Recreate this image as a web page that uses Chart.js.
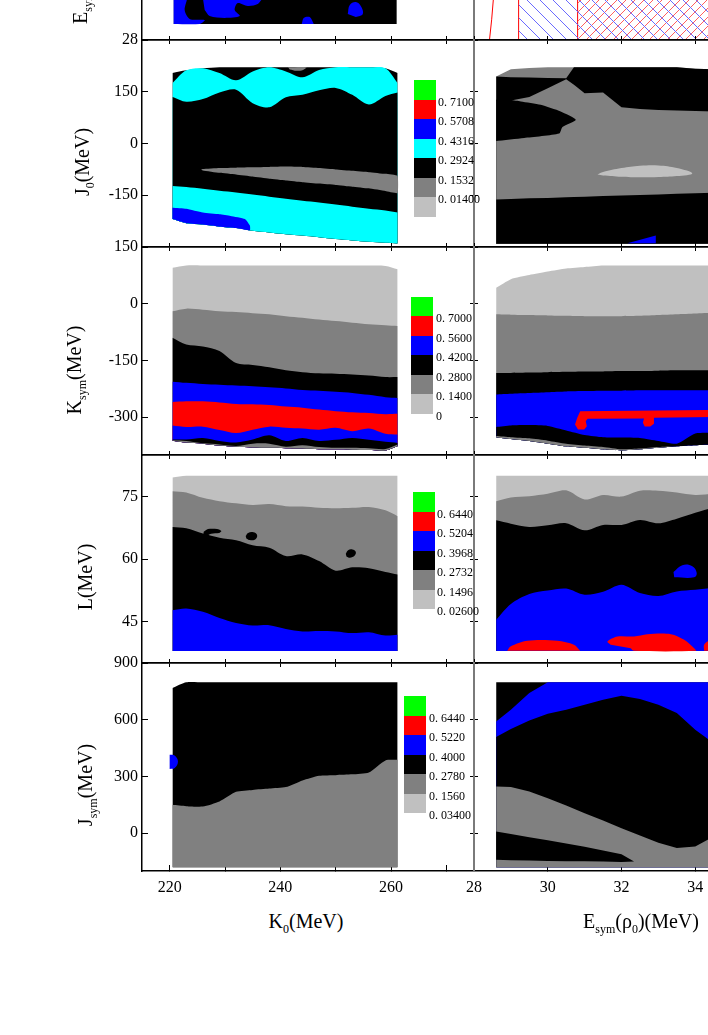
<!DOCTYPE html>
<html lang="en">
<head>
<meta charset="UTF-8" />
<title>Contour grid</title>
<script src="https://cdn.jsdelivr.net/npm/chart.js"></script>
<style>
  body { margin: 0; background: #fff; }
  #fig { position: relative; width: 708px; height: 1035px; overflow: hidden; background: #fff; font-family: 'Liberation Serif', serif; }
  #fig canvas { position: absolute; }
  .ytitle, .xtitle { position: absolute; font-size: 20px; white-space: nowrap; color: #000; }
  .ytitle { transform: translate(-50%, -50%) rotate(-90deg); }
  .xtitle { transform: translate(-50%, -50%); }
  sub { font-size: 12px; vertical-align: -5px; line-height: 0; }
  .swatch { position: absolute; }
  .lvl { position: absolute; font-size: 12px; transform: translateY(-50%); white-space: nowrap; }
</style>
</head>
<body>
<div id="fig"></div>
<script>
// colours of the contour levels
const GREEN = '#00ff00', RED = '#ff0000', BLUE = '#0000ff', CYAN = '#00ffff';
const BLACK = '#000000', GRAY = '#808080', LGRAY = '#c0c0c0';

// axis ticks
const k0Ticks = [220, 230, 240, 250, 260, 270];
const esymTicks = [28, 30, 32, 34, 36];
const j0Ticks = [-150, 0, 150];
const ksymTicks = [-300, -150, 0, 150];
const lTicks = [45, 60, 75];
const jsymTicks = [0, 300, 600, 900];

// sample positions along x for the contour boundaries
const k0Grid = [220.5, 223, 226, 229, 232, 235, 238, 241, 244, 247, 250, 253, 256, 259, 261.2];
const esGrid = [28.6, 29, 29.5, 30, 30.5, 31, 31.5, 32, 32.5, 33, 33.5, 34, 34.5, 35];
const esGridJ0 = [28.6, 29, 29.5, 30, 30.5, 30.71, 31, 31.5, 32, 32.5, 33, 33.5, 34, 34.5, 35];

// ---- top row (E_sym), only its lower edge is visible
const eTopXs = [220.7, 261.05];
const eTopUpper = [35.8, 35.8];
const eTopLower = [28.62, 28.62];
const eBlobA = [[220.72,29.65],[223.07,29.65],[222.71,29.15],[223.62,28.81],[226.33,28.77],[225.42,28.62],[220.72,28.62]];
const eBlobB = [[225.97,29.65],[236.64,29.65],[235.91,29.38],[234.1,29.31],[232.3,29.42],[231.75,29.15],[232.66,28.92],[229.95,28.85],[227.23,28.92],[226.33,29.15]];
const eBlobC = [[243.87,28.62],[244.23,28.85],[245.32,28.88],[246.04,28.62]];
const eBlobD = [[252.19,29.0],[252.55,29.35],[253.64,29.46],[254.54,29.31],[254.9,29.0],[253.64,28.88]];
const hatchBlueFrom = 29.21, hatchRedFrom = 30.81, hatchTo = 36;
const esymCurve = [[28.42, 0], [28.48, 0.1], [28.55, 0.25]];

// ---- J0 vs K0
const j0Top   = [204, 212, 218, 221, 221, 221, 221, 221, 221, 221, 221, 221, 221, 218, 204];
const j0Cyan1 = [175, 212, 218, 204, 183, 209, 221, 209, 192, 213, 221, 221, 221, 218, 175];
const j0Cyan2 = [135, 121, 129, 148, 156, 117, 105, 134, 141, 154, 161, 141, 113, 138, 148];
const j0Cyan3 = [-123, -126, -131, -137, -142, -148, -154, -160, -166, -171, -177, -183, -189, -194, -200];
const j0Bot   = [-219, -231, -235, -241, -245, -253, -258, -263, -267, -272, -277, -281, -285, -288, -290];
const j0GrayBand = [[225.7,-76],[226,-74],[229,-71],[232,-70],[235,-69],[238,-68],[241,-67],[244,-68],[247,-71],[250,-75],[253,-79],[256,-83],[259,-88],[261.2,-94],
  [261.2,-144],[259,-138],[256,-130],[253,-125],[250,-120],[247,-116],[244,-112],[241,-107],[238,-102],[235,-96],[232,-90],[229,-85],[226,-78]];
const j0BlueBlob = [[220.5,-186],[223,-189],[226,-200],[229,-205],[231,-210],[233.6,-219],[234.5,-238],[234.5,-251.7],[232,-245],[229,-241],[226,-235],[223,-231],[220.5,-219]];
const j0GrayBlob = [[241.4,221],[244.71,221],[244.11,213.4],[242.91,210.6],[241.7,214.4]];

// ---- J0 vs Esym
const j0rTop = [194, 215, 219, 221, 221, 221, 221, 221, 221, 221, 221, 221, 217, 215, 215];
const j0rA1  = [194, 192, 191, 190, 189, 221, 221, 221, 221, 221, 221, 221, 217, 215, 215];
const j0rA2  = [125, 125, 135, 160, 186, 170, 146, 148, 105, 100, 97, 96, 94, 93, 92];
const j0rA7  = [-162, -161, -159, -158, -156, -155, -154, -152, -151, -149, -148, -146, -144, -143, -141];
const j0rBot = [-290.5, -290.5, -290.5, -290.5, -290.5, -290.5, -290.5, -290.5, -290.5, -290.5, -290.5, -290.5, -290.5, -290.5, -290.5];
const j0rLobe = [[28.6,127],[29.0,126],[29.27,122],[29.81,112.5],[30.35,93],[30.76,69],[30.4,48],[30.31,29],[29.36,16],[28.6,7]];
const j0rOval = [[31.35,-89.5],[31.5,-82.8],[32,-71.2],[32.5,-64.5],[33,-63.5],[33.5,-71.2],[33.92,-86.6],[33.5,-94.3],[33,-97.2],[32.5,-98.1],[32,-96.2],[31.5,-92.4]];
const j0rBlueSliver = [[32.16,-289],[32.93,-267],[32.93,-289]];

// ---- K_sym vs K0
const ksTop  = [95, 101, 101, 101, 101, 101, 101, 101, 101, 101, 101, 101, 101, 100, 91];
const ksLg   = [-20, -13, -16, -20, -22, -25, -28, -33, -37, -42, -46, -50, -54, -57, -59];
const ksGr   = [-90, -108, -113, -125, -157, -162, -168, -176, -181, -184, -185, -187, -190, -194, -194];
const ksBk   = [-206, -209, -212, -214, -216, -218, -221, -224, -228, -230, -233, -236, -241, -247, -249];
const ksBl   = [-260, -258, -258, -261, -265, -266, -268, -272, -275, -280, -284, -287, -289, -292, -291];
const ksRd   = [-322, -326, -325, -334, -342, -333, -325, -328, -330, -333, -328, -337, -330, -344, -346];
const ksBl2  = [-359, -359, -355, -363, -367, -359, -348, -363, -355, -363, -360, -355, -360, -365, -368];
const ksBk2  = [-361, -363, -369, -372, -376, -370, -370, -378, -374, -379, -381, -381, -382, -384, -372];
const ksBot  = [-362, -367, -370, -375, -378, -380, -381, -382, -383, -385, -385, -386, -387, -388, -377];

// ---- K_sym vs Esym
const ksrTop = [42, 65, 76, 85, 93, 97, 101, 101, 101, 101, 101, 101, 101, 101];
const ksrLg  = [-28, -29, -30, -31, -32, -33, -33, -33, -32, -30, -28, -26, -24, -23];
const ksrGr  = [-183, -183, -182, -181, -180, -179, -179, -178, -178, -177, -176, -176, -176, -176];
const ksrBk  = [-240, -238, -236, -234, -232, -231, -230, -230, -229, -229, -229, -229, -229, -229];
const ksrBl  = [-326, -322, -321, -323, -335, -347, -353, -354, -355, -363, -370, -343, -341, -341];
const ksrBk2 = [-350, -353, -356, -362, -370, -375, -379, -385, -383, -379, -377, -374, -372, -372];
const ksrBot = [-353, -358, -363, -370, -377, -381, -385, -388, -385, -381, -377, -374, -372, -372];
const ksrRedBar = [[30.88,-284],[35,-280.5],[35,-299],[32.88,-301.6],[32.88,-317.5],[32.78,-324.6],[32.63,-324.6],[32.58,-314.9],[32.61,-303.4],[31.08,-304.3],[31.03,-310.5],[31.06,-323.7],[30.99,-332.5],[30.82,-332.5],[30.74,-319.3],[30.8,-301.6]];

// ---- L vs K0
const lTop = [79.6, 80, 80, 80, 80, 80, 80, 80, 80, 80, 80, 80, 80, 80, 80];
const lLg  = [76.3, 76.0, 74.7, 73.9, 73.4, 73.0, 73.2, 72.7, 72.6, 72.3, 72.2, 72.3, 72.5, 71.7, 70.3];
const lGr  = [67.7, 67.4, 66.1, 65.1, 64.5, 63.3, 62.7, 60.7, 61.1, 59.5, 57.2, 58.0, 57.8, 56.9, 56.3];
const lBk  = [47.7, 48.1, 47.3, 45.8, 44.6, 44.0, 44.1, 43.2, 42.6, 42.7, 42.6, 42.2, 42.4, 41.6, 41.8];
const lBot = [37.9, 37.9, 37.9, 37.9, 37.9, 37.9, 37.9, 37.9, 37.9, 37.9, 37.9, 37.9, 37.9, 37.9, 37.9];
const lBlob1 = [[226.15,66.55],[226.93,67.19],[228.56,67.19],[229.34,66.71],[228.92,66.23],[227.53,66.06],[226.75,65.5],[226.99,64.46],[226.51,64.14],[226.03,65.1]];
const lBlob2 = [[233.74,65.5],[234.17,66.23],[234.95,66.47],[235.67,66.07],[235.79,65.26],[235.37,64.62],[234.47,64.54],[233.86,64.94]];
const lBlob3 = [[251.83,61.24],[252.25,62.13],[253.03,62.29],[253.63,61.72],[253.45,60.84],[252.55,60.28],[251.95,60.6]];

// ---- L vs Esym
const lrTop = [80, 80, 80, 80, 80, 80, 80, 80, 80, 80, 80, 80, 80, 80];
const lrLg  = [73.9, 74.8, 75.1, 75.7, 76.5, 74.3, 75.4, 75.0, 76.4, 76.4, 76.0, 75.4, 75.7, 75.7];
const lrGr  = [69.3, 68.5, 67.7, 68.1, 68.6, 66.9, 68.2, 68.2, 69.4, 68.6, 69.7, 71.1, 72.3, 72.7];
const lrBk  = [45.4, 49.2, 51.6, 52.4, 52.9, 51.4, 52.1, 53.8, 51.8, 51.1, 52.2, 52.6, 53.0, 53.0];
const lrBot = [37.9, 37.9, 37.9, 37.9, 37.9, 37.9, 37.9, 37.9, 37.9, 37.9, 37.9, 37.9, 37.9, 37.9];
const lrRed1 = [[28.9,37.92],[28.99,38.97],[29.45,40.34],[30.26,40.34],[30.71,39.37],[30.88,37.92]];
const lrRed2 = [[31.71,39.37],[31.62,40.18],[31.89,41.38],[32.34,41.38],[32.7,41.94],[33.34,41.94],[33.7,40.58],[33.97,38.57],[34.02,37.92],[32.34,37.92],[32.25,38.57]];
const lrRed3 = [[34.24,37.92],[34.24,39.37],[34.38,40.34],[34.87,40.34],[34.87,37.92]];
const lrBlueBlob = [[33.41,56.9],[33.65,58.51],[33.92,58.27],[34.04,56.66],[33.97,55.61],[33.43,55.61]];

// ---- J_sym vs K0
const jsTop = [768, 798, 798, 798, 798, 798, 798, 798, 798, 798, 798, 798, 798, 798, 798];
const jsGr  = [150, 143, 141, 168, 219, 229, 236, 244, 279, 304, 307, 311, 321, 385, 388];
const jsBot = [-180, -180, -180, -180, -180, -180, -180, -180, -180, -180, -180, -180, -180, -180, -180];
const jsBlueBlob = [[220,414.7],[220.9,411.1],[221.5,379.4],[220.9,344.1],[220,338.8]];

// ---- J_sym vs Esym
const jsrTop = [798, 798, 798, 798, 798, 798, 798, 798, 798, 798, 798, 798, 798, 798];
const jsrBk1 = [591, 653, 741, 798, 798, 798, 798, 798, 798, 798, 798, 798, 798, 798];
const jsrBl  = [508, 551, 596, 632, 653, 679, 706, 727, 709, 679, 635, 547, 476, 388];
const jsrGr  = [247, 244, 221, 185, 146, 106, 67, 26, -12, -50, -79, -71, -18, 0];
const jsrBot = [-180, -180, -180, -180, -180, -180, -180, -180, -180, -180, -180, -180, -180, -180];
const jsrWedge = [[28.6,9],[29,-4],[29.5,-21],[30,-37],[30.5,-55],[31,-72],[31.5,-92],[32,-111],[32.34,-150],
  [32,-152],[31.5,-150],[31,-148],[30.5,-148],[30,-147],[29.5,-145],[29,-143],[28.6,-141]];

// colour bars
const j0Levels = ['0. 7100', '0. 5708', '0. 4316', '0. 2924', '0. 1532', '0. 01400'];
const ksLevels = ['0. 7000', '0. 5600', '0. 4200', '0. 2800', '0. 1400', '0'];
const lLevels  = ['0. 6440', '0. 5204', '0. 3968', '0. 2732', '0. 1496', '0. 02600'];
const jsLevels = ['0. 6440', '0. 5220', '0. 4000', '0. 2780', '0. 1560', '0. 03400'];

// ------------------------------------------------------------------
const fig = document.getElementById('fig');
const COLS = [{ left: 142, w: 332 }, { left: 474, w: 295 }];
const ROWS = [{ top: -168, h: 208 }, { top: 40, h: 207 }, { top: 247, h: 208 }, { top: 455, h: 208 }, { top: 663, h: 208 }];
const FONT = { family: 'Liberation Serif', size: 16 };

// each band is filled from its upper boundary down to the lowest one;
// the next band is painted over it, so neighbouring bands show no seam
function bands(xs, bounds, colors, tension) {
  const last = bounds.length - 1;
  return bounds.map((b, i) => ({
    data: xs.map((x, j) => ({ x: x, y: b[j] })),
    fill: i < last ? last : false,
    backgroundColor: i < last ? colors[i] : 'transparent',
    borderColor: 'transparent',
    borderWidth: 0,
    pointRadius: 0,
    tension: tension,
    order: last - i + 1
  }));
}

function island(pts, color, tension) {
  return {
    data: pts.map(p => ({ x: p[0], y: p[1] })),
    fill: 'shape',
    backgroundColor: color,
    borderColor: 'transparent',
    borderWidth: 0,
    pointRadius: 0,
    tension: tension,
    order: 0
  };
}

function axis(pos, min, max, ticks, o) {
  const vertical = pos === 'left' || pos === 'right';
  return {
    type: 'linear', position: pos, min: min, max: max,
    afterBuildTicks: s => { s.ticks = ticks.map(v => ({ value: v })); },
    afterFit: s => {
      if (vertical) s.width = o.size; else s.height = o.size;
      s.paddingTop = s.paddingBottom = s.paddingLeft = s.paddingRight = 0;
    },
    ticks: {
      display: !!o.labels,
      callback: o.labels || (() => ''),
      padding: o.pad || 0,
      font: FONT, color: '#000', maxRotation: 0, autoSkip: false
    },
    grid: { drawOnChartArea: false, drawTicks: true, tickLength: o.tl, color: '#000', lineWidth: 1 },
    border: { display: true, color: o.bc || '#000', width: o.bw || 1.5 }
  };
}

function panel(p) {
  const col = COLS[p.col], row = ROWS[p.row];
  const ml = p.col === 0 ? 60 : 10, mr = 10, mt = 12, mb = p.row === 4 ? 32 : 12;
  const cv = document.createElement('canvas');
  cv.width = col.w + ml + mr;
  cv.height = row.h + mt + mb;
  cv.style.left = (col.left - ml) + 'px';
  cv.style.top = (row.top - mt) + 'px';
  fig.appendChild(cv);
  const bottomEdge = p.row === 4, leftEdge = p.col === 0;
  new Chart(cv, {
    type: 'line',
    data: { datasets: p.datasets },
    options: {
      responsive: false, animation: false, devicePixelRatio: 1, events: [],
      layout: { padding: 0 },
      plugins: { legend: { display: false }, tooltip: { enabled: false } },
      scales: {
        x: axis('bottom', p.xMin, p.xMax, p.xTicks, {
          size: mb, tl: bottomEdge ? -6 : 4, pad: bottomEdge ? 13 : 3,
          labels: bottomEdge ? p.xLabel : null
        }),
        x2: axis('top', p.xMin, p.xMax, p.xTicks, { size: mt, tl: 4 }),
        y: axis('left', p.yMin, p.yMax, p.yTicks, {
          size: ml, tl: leftEdge ? -6 : 4, pad: leftEdge ? 10 : 0,
          labels: leftEdge ? p.yLabel : null,
          bc: leftEdge ? '#000' : '#7a7a7a', bw: leftEdge ? 1.5 : 2
        }),
        y2: axis('right', p.yMin, p.yMax, p.yTicks, {
          size: mr, tl: 4, bc: leftEdge ? '#7a7a7a' : '#000', bw: 2
        })
      }
    }
  });
}

function hatch(color, step, dir) {
  const c = document.createElement('canvas');
  c.width = c.height = step;
  const g = c.getContext('2d');
  g.strokeStyle = color;
  g.lineWidth = 1;
  g.beginPath();
  for (let k = -1; k <= 1; k++) {
    if (dir > 0) { g.moveTo(k * step, step); g.lineTo(k * step + step, 0); }
    else { g.moveTo(k * step, 0); g.lineTo(k * step + step, step); }
  }
  g.stroke();
  return g.createPattern(c, 'repeat');
}

function colorBar(x, top, colors, labels, labelX) {
  const h = 19.5;
  colors.forEach((c, i) => {
    const d = document.createElement('div');
    d.className = 'swatch';
    d.style.cssText = `left:${x}px;top:${top + i * h}px;width:22px;height:${h}px;background:${c}`;
    fig.appendChild(d);
  });
  labels.forEach((t, i) => {
    const d = document.createElement('div');
    d.className = 'lvl';
    d.textContent = t;
    d.style.left = labelX + 'px';
    d.style.top = (top + (i + 1) * h + 2) + 'px';
    fig.appendChild(d);
  });
}

function addText(cls, x, y, html) {
  const d = document.createElement('div');
  d.className = cls;
  d.innerHTML = html;
  d.style.left = x + 'px';
  d.style.top = y + 'px';
  fig.appendChild(d);
}

const k0Label = v => (v % 20 === 0 ? String(v) : '');
const plain = v => String(v);
const j0Label = v => (Math.abs(v) === 300 ? '' : String(v));

// top row
panel({
  col: 0, row: 0, xMin: 215, xMax: 275, xTicks: k0Ticks, yMin: 28, yMax: 36, yTicks: esymTicks, yLabel: plain,
  datasets: bands(eTopXs, [eTopUpper, eTopLower], [BLACK], 0).concat([
    island(eBlobA, BLUE, 0.3), island(eBlobB, BLUE, 0.3), island(eBlobC, BLUE, 0.3), island(eBlobD, BLUE, 0.4)
  ])
});
panel({
  col: 1, row: 0, xMin: 28, xMax: 36, xTicks: esymTicks, yMin: 0, yMax: 1, yTicks: [],
  datasets: [
    { data: [{ x: hatchBlueFrom, y: 1 }, { x: hatchTo, y: 1 }], fill: 'origin', backgroundColor: hatch('#6a6aff', 13, -1), borderColor: 'transparent', borderWidth: 0, pointRadius: 0 },
    { data: [{ x: hatchRedFrom, y: 1 }, { x: hatchTo, y: 1 }], fill: 'origin', backgroundColor: hatch('#ff6060', 9, 1), borderColor: 'transparent', borderWidth: 0, pointRadius: 0 },
    { data: [{ x: hatchBlueFrom, y: 0 }, { x: hatchBlueFrom, y: 1 }], fill: false, borderColor: RED, borderWidth: 1, pointRadius: 0 },
    { data: [{ x: hatchRedFrom, y: 0 }, { x: hatchRedFrom, y: 1 }], fill: false, borderColor: RED, borderWidth: 1, pointRadius: 0 },
    { data: esymCurve.map(p => ({ x: p[0], y: p[1] })), fill: false, borderColor: RED, borderWidth: 1, pointRadius: 0 }
  ]
});

// J0 row
panel({
  col: 0, row: 1, xMin: 215, xMax: 275, xTicks: k0Ticks, yMin: -300, yMax: 300, yTicks: j0Ticks, yLabel: j0Label,
  datasets: bands(k0Grid, [j0Top, j0Cyan1, j0Cyan2, j0Cyan3, j0Bot], [BLACK, CYAN, BLACK, CYAN], 0.3).concat([
    island(j0GrayBand, GRAY, 0.1), island(j0BlueBlob, BLUE, 0.15), island(j0GrayBlob, GRAY, 0.3)
  ])
});
panel({
  col: 1, row: 1, xMin: 28, xMax: 36, xTicks: esymTicks, yMin: -300, yMax: 300, yTicks: j0Ticks,
  datasets: bands(esGridJ0, [j0rTop, j0rA1, j0rA2, j0rA7, j0rBot], [GRAY, BLACK, GRAY, BLACK], 0).concat([
    island(j0rLobe, BLACK, 0.2), island(j0rOval, LGRAY, 0.4), island(j0rBlueSliver, BLUE, 0)
  ])
});

// K_sym row
panel({
  col: 0, row: 2, xMin: 215, xMax: 275, xTicks: k0Ticks, yMin: -400, yMax: 150, yTicks: ksymTicks, yLabel: plain,
  datasets: bands(k0Grid, [ksTop, ksLg, ksGr, ksBk, ksBl, ksRd, ksBl2, ksBk2, ksBot],
    [LGRAY, GRAY, BLACK, BLUE, RED, BLUE, BLACK, GRAY], 0.3)
});
panel({
  col: 1, row: 2, xMin: 28, xMax: 36, xTicks: esymTicks, yMin: -400, yMax: 150, yTicks: ksymTicks,
  datasets: bands(esGrid, [ksrTop, ksrLg, ksrGr, ksrBk, ksrBl, ksrBk2, ksrBot],
    [LGRAY, GRAY, BLACK, BLUE, BLACK, GRAY], 0.2).concat([island(ksrRedBar, RED, 0)])
});

// L row
panel({
  col: 0, row: 3, xMin: 215, xMax: 275, xTicks: k0Ticks, yMin: 35, yMax: 85, yTicks: lTicks, yLabel: plain,
  datasets: bands(k0Grid, [lTop, lLg, lGr, lBk, lBot], [LGRAY, GRAY, BLACK, BLUE], 0.3).concat([
    island(lBlob1, BLACK, 0.3), island(lBlob2, BLACK, 0.4), island(lBlob3, BLACK, 0.4)
  ])
});
panel({
  col: 1, row: 3, xMin: 28, xMax: 36, xTicks: esymTicks, yMin: 35, yMax: 85, yTicks: lTicks,
  datasets: bands(esGrid, [lrTop, lrLg, lrGr, lrBk, lrBot], [LGRAY, GRAY, BLACK, BLUE], 0.3).concat([
    island(lrRed1, RED, 0.3), island(lrRed2, RED, 0.3), island(lrRed3, RED, 0.3), island(lrBlueBlob, BLUE, 0.4)
  ])
});

// J_sym row
panel({
  col: 0, row: 4, xMin: 215, xMax: 275, xTicks: k0Ticks, xLabel: k0Label, yMin: -200, yMax: 900, yTicks: jsymTicks, yLabel: plain,
  datasets: bands(k0Grid, [jsTop, jsGr, jsBot], [BLACK, GRAY], 0.2).concat([island(jsBlueBlob, BLUE, 0.4)])
});
panel({
  col: 1, row: 4, xMin: 28, xMax: 36, xTicks: esymTicks, xLabel: plain, yMin: -200, yMax: 900, yTicks: jsymTicks,
  datasets: bands(esGrid, [jsrTop, jsrBk1, jsrBl, jsrGr, jsrBot], [BLACK, BLUE, BLACK, GRAY], 0).concat([
    island(jsrWedge, BLACK, 0)
  ])
});

// colour bars
colorBar(414, 80, [GREEN, RED, BLUE, CYAN, BLACK, GRAY, LGRAY], j0Levels, 438);
colorBar(411, 296.5, [GREEN, RED, BLUE, BLACK, GRAY, LGRAY], ksLevels, 436);
colorBar(413, 492, [GREEN, RED, BLUE, BLACK, GRAY, LGRAY], lLevels, 437);
colorBar(404, 696, [GREEN, RED, BLUE, BLACK, GRAY, LGRAY], jsLevels, 429);
addText('lvl', 430, -4, '0. 02000');

// axis titles
addText('ytitle', 80, -34, 'E<sub>sym</sub>(&rho;<sub>0</sub>)(MeV)');
addText('ytitle', 82, 162, 'J<sub>0</sub>(MeV)');
addText('ytitle', 74, 370, 'K<sub>sym</sub>(MeV)');
addText('ytitle', 85, 577, 'L(MeV)');
addText('ytitle', 85, 785, 'J<sub>sym</sub>(MeV)');
addText('xtitle', 306, 921, 'K<sub>0</sub>(MeV)');
addText('xtitle', 641, 921, 'E<sub>sym</sub>(&rho;<sub>0</sub>)(MeV)');
</script>
</body>
</html>
